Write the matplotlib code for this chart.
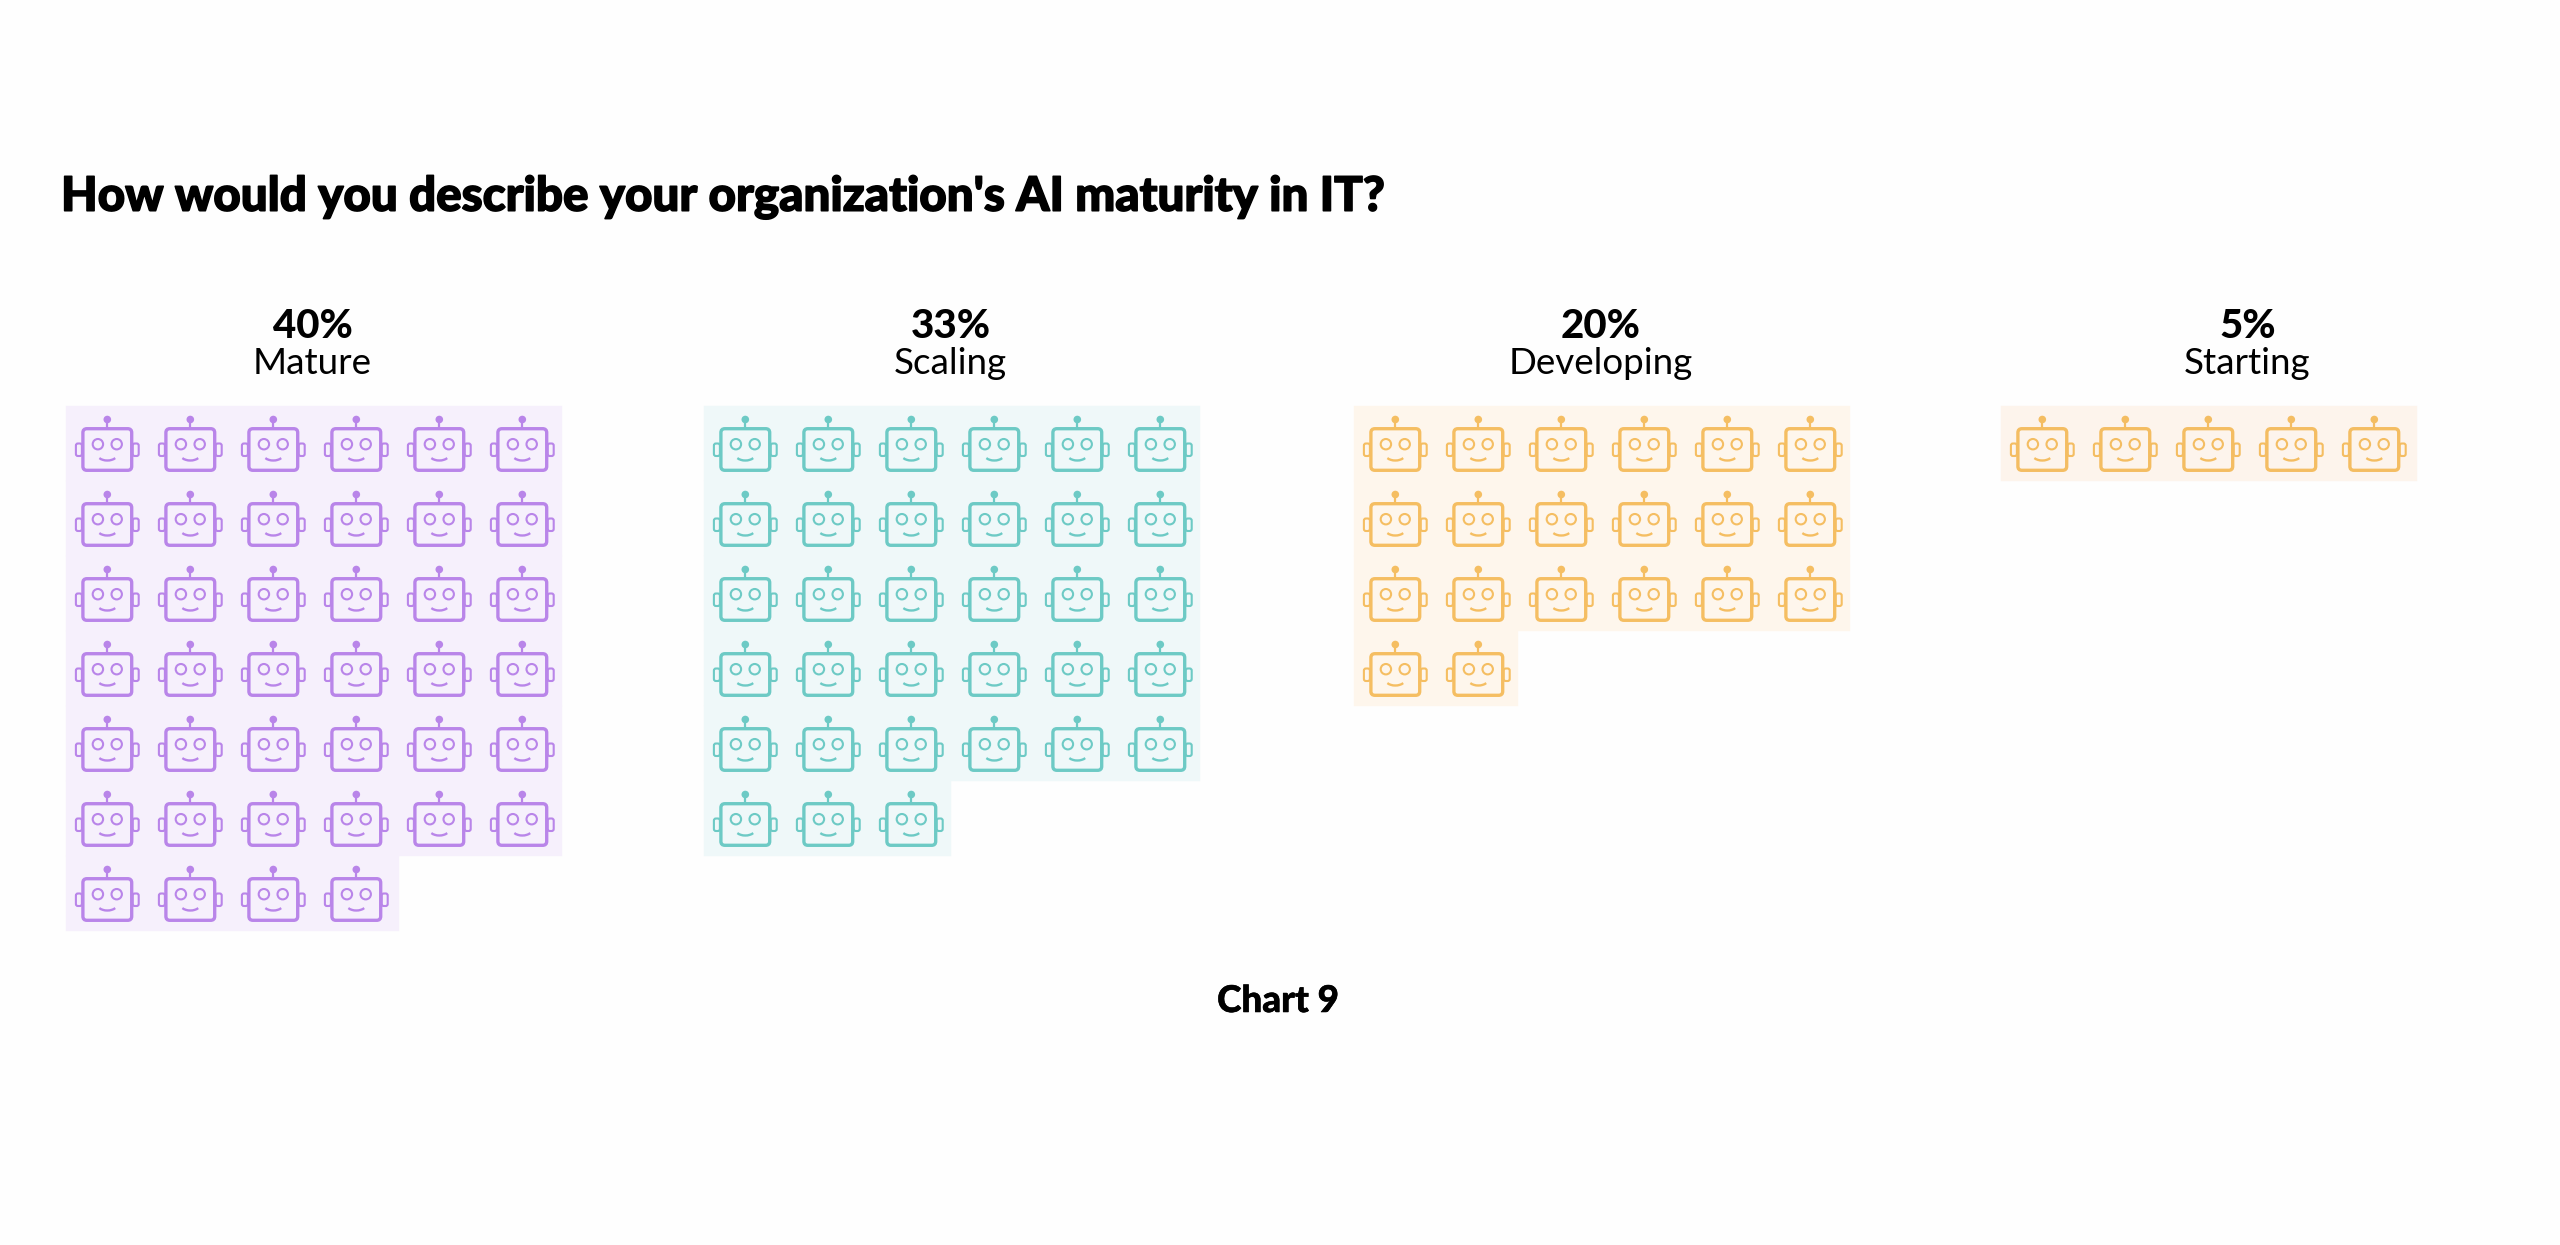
import matplotlib
matplotlib.use("Agg")
import matplotlib.pyplot as plt
import matplotlib.patheffects as pe
from matplotlib.patches import Rectangle, FancyBboxPatch, Circle, Arc

categories = ["Mature", "Scaling", "Developing", "Starting"]
percents = [40, 33, 20, 5]
icon_counts = [40, 33, 20, 5]
line_colors = ["#B985E9", "#6DCAC5", "#F5BE62", "#F4BD62"]
panel_colors = ["#F6F0FC", "#EFF8F9", "#FEF6EC", "#FDF4EC"]
panel_left = [66, 704, 1354, 2001]
title = "How would you describe your organization's AI maturity in IT?"
caption = "Chart 9"

W, H = 2560, 1245
CELL_W, CELL_H = 83, 75
PER_ROW = 6
TOP = 406
# band width for a row holding n icons
ROW_WIDTH = {1: 83, 2: 164, 3: 247, 4: 333, 5: 416, 6: 496}

plt.rcParams['font.family'] = ['Lato', 'DejaVu Sans']


def heavy(width):
    # thicken the bold face a little
    return [pe.withStroke(linewidth=width, foreground='black')]


def draw_robot(ax, cx, cy, color):
    # cx, cy is the middle of the head
    hw, hh = 24.4, 20.8
    ax.add_patch(FancyBboxPatch((cx - hw, cy - hh), 2 * hw, 2 * hh,
                                boxstyle="round,pad=0,rounding_size=4", lw=2.4,
                                edgecolor=color, facecolor='none'))
    # ears
    for ex in (cx - hw - 7, cx + hw + 1):
        ax.add_patch(FancyBboxPatch((ex, cy - 6), 6, 12.5,
                                    boxstyle="round,pad=0,rounding_size=2", lw=1.5,
                                    edgecolor=color, facecolor='none'))
    # antenna
    ax.plot([cx, cx], [cy - 30, cy - hh], color=color, lw=1.6, solid_capstyle='butt')
    ax.add_patch(Circle((cx, cy - 30), 3.8, color=color, lw=0))
    # eyes and smile
    for ex in (cx - 9.4, cx + 9.4):
        ax.add_patch(Circle((ex, cy - 5.3), 5.2, lw=1.5, edgecolor=color, facecolor='none'))
    ax.add_patch(Arc((cx, cy + 4.0), 21, 14, theta1=30, theta2=150, lw=1.7, color=color))


fig = plt.figure(figsize=(W / 100, H / 100), dpi=100, facecolor='#FEFEFE')
ax = fig.add_axes([0, 0, 1, 1])
ax.set_xlim(0, W)
ax.set_ylim(H, 0)
ax.axis('off')

ax.text(61, 197, title, fontsize=34.2, fontweight='black', color='black', va='center', ha='left',
        path_effects=heavy(1.1))

for name, pct, count, col, bg, left in zip(categories, percents, icon_counts,
                                           line_colors, panel_colors, panel_left):
    mid = left + ROW_WIDTH[PER_ROW] / 2 - 1.5
    ax.text(mid, 326, f"{pct}%", fontsize=29, fontweight='black', ha='center', va='center', color='black')
    ax.text(mid, 364, name, fontsize=26.5, ha='center', va='center', color='black')
    n_rows = (count + PER_ROW - 1) // PER_ROW
    for r in range(n_rows):
        n = min(count - r * PER_ROW, PER_ROW)
        y = TOP + r * CELL_H
        ax.add_patch(Rectangle((left, y), ROW_WIDTH[n], CELL_H, facecolor=bg, edgecolor=bg, lw=0.3))
        for c in range(n):
            draw_robot(ax, left + 41.3 + c * CELL_W, y + 43.5, col)

ax.text(1278, 1001, caption, fontsize=26.5, fontweight='black', ha='center', va='center', color='black',
        path_effects=heavy(0.4))

fig.savefig('out.png', dpi=100, facecolor=fig.get_facecolor())
